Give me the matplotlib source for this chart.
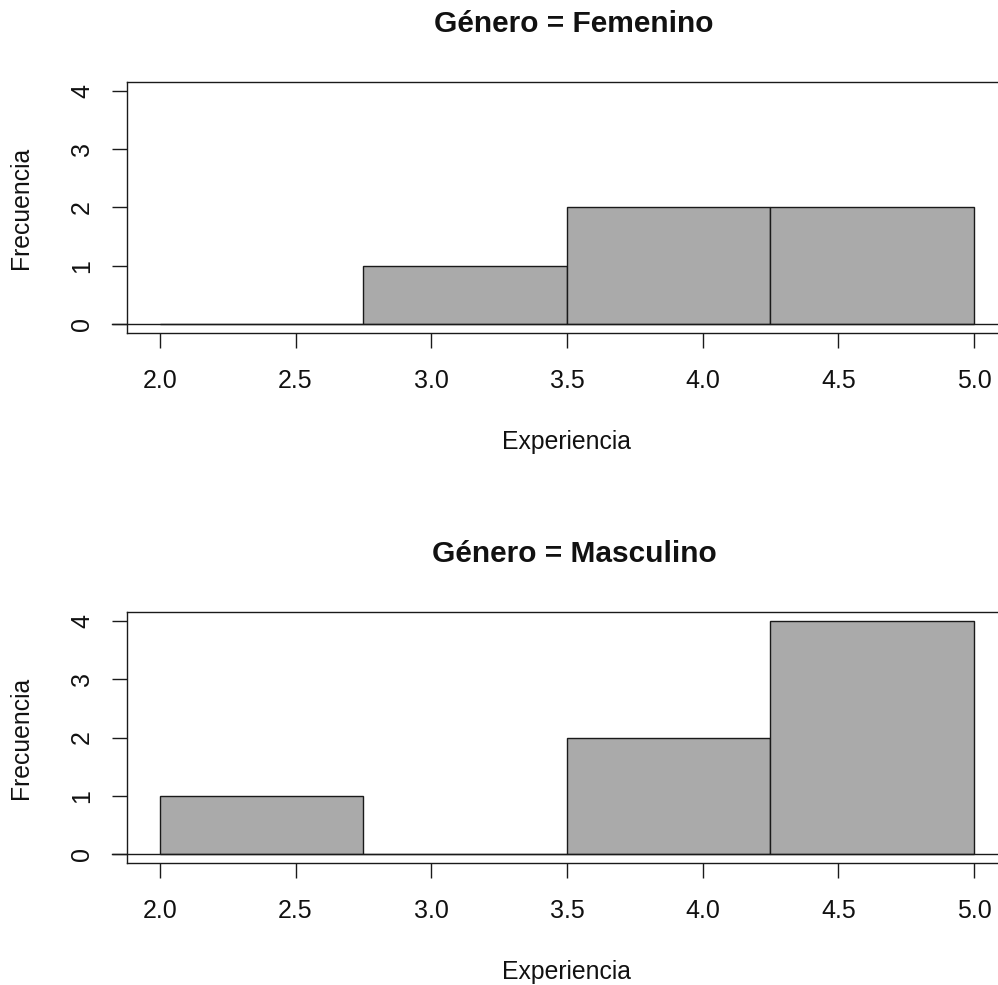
import matplotlib
matplotlib.use("Agg")
import matplotlib.pyplot as plt
import numpy as np

plt.rcParams['font.family'] = ['Liberation Sans', 'DejaVu Sans']

bin_edges = [2.0, 2.75, 3.5, 4.25, 5.0]
groups = ["Femenino", "Masculino"]
counts_fem = [0, 1, 2, 2]
counts_mas = [1, 0, 2, 4]
counts = [counts_fem, counts_mas]
x_ticks = [2.0, 2.5, 3.0, 3.5, 4.0, 4.5, 5.0]
x_ticklabels = ["2.0", "2.5", "3.0", "3.5", "4.0", "4.5", "5.0"]
y_ticks = [0, 1, 2, 3, 4]

W, H = 998, 985
fig = plt.figure(figsize=(W / 100, H / 100), dpi=100)

left_px, right_px = 127.3, 1006.6
panels = [(82, 333), (612, 863)]
tick_len_pt = 15 * 0.72

for (top_px, bot_px), g, cnt in zip(panels, groups, counts):
    ax = fig.add_axes([left_px / W, 1 - bot_px / H,
                       (right_px - left_px) / W, (bot_px - top_px) / H])
    edges = np.array(bin_edges)
    ax.bar(edges[:-1], cnt, width=np.diff(edges), align='edge',
           color='#AAAAAA', edgecolor='#1a1a1a', linewidth=1.0, zorder=2)
    ax.set_xlim(1.88, 5.12)
    ax.set_ylim(-0.16, 4.16)
    ax.axhline(0, xmin=-15 / (right_px - left_px), xmax=1, color='#1a1a1a',
               linewidth=1.0, clip_on=False, zorder=3)
    for s in ax.spines.values():
        s.set_linewidth(1.0)
        s.set_color('#1a1a1a')
    ax.set_xticks(x_ticks)
    ax.set_xticklabels(x_ticklabels)
    ax.set_yticks(y_ticks)
    ax.set_yticklabels([str(v) for v in y_ticks], rotation=90, va='center')
    ax.tick_params(axis='both', direction='out', length=tick_len_pt, width=1.0,
                   color='#1a1a1a', labelsize=18, labelcolor='#111111')
    ax.tick_params(axis='x', pad=15)
    ax.tick_params(axis='y', pad=13)
    ax.set_xlabel("Experiencia", fontsize=17.8, color='#111111', labelpad=27)
    ax.set_ylabel("Frecuencia", fontsize=17.8, color='#111111', labelpad=27)
    ax.set_title(f"Género = {g}", fontsize=21.5, fontweight='bold',
                 color='#111111', pad=36, x=(567 - left_px) / (right_px - left_px) + 0.008)

fig.savefig("out.png", dpi=100)
